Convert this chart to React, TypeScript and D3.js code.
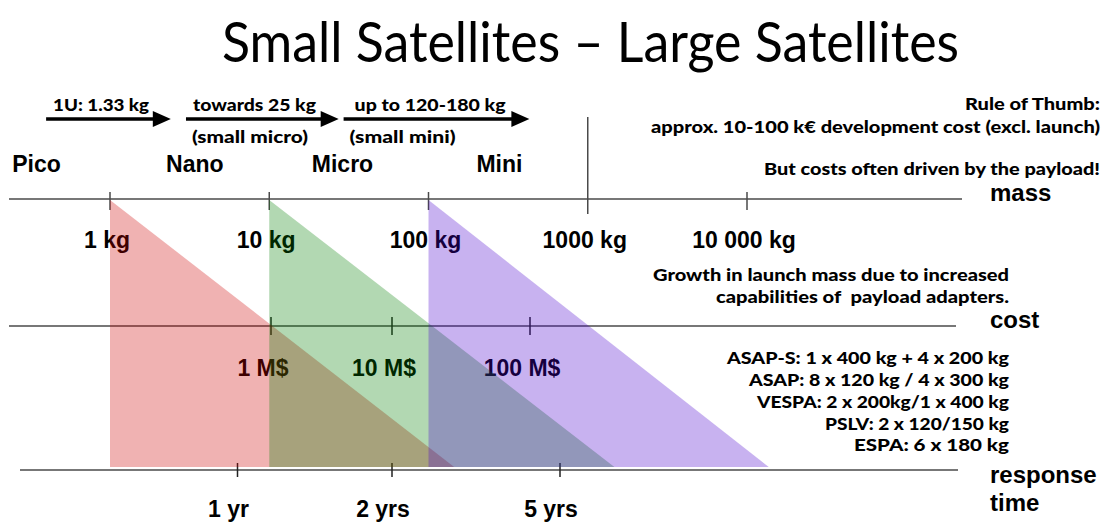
import React from 'react';
import * as d3 from 'd3';

const W = 1103;
const H = 522;

// ---- data ----
const titleText = 'Small Satellites – Large Satellites';
const massTicks = [1, 10, 100, 1000, 10000];
const massLabels = ['1 kg', '10 kg', '100 kg', '1000 kg', '10 000 kg'];
const costTicks = [1, 10, 100];
const costLabels = ['1 M$', '10 M$', '100 M$'];
const timeTicks = [1, 2, 5];
const timeLabels = ['1 yr', '2 yrs', '5 yrs'];
const classNames = ['Pico', 'Nano', 'Micro', 'Mini'];
const classStartKg = [0.243, 2.25, 18.5, 200];
const arrowLabels = ['1U: 1.33 kg', 'towards 25 kg', 'up to 120-180 kg'];
const arrowSubLabels = ['', '(small micro)', '(small mini)'];
const arrowFromKg = [0.397, 3.0, 29.3];
const arrowToKg = [2.41, 27.3, 430];
const triangleFromKg = [1, 10, 100];
const triangleToKg = [145, 1470, 13700];
const ruleLines = [
  'Rule of Thumb:',
  'approx. 10-100 k€ development cost (excl. launch)',
  'But costs often driven by the payload!',
];
const growthLines = ['Growth in launch mass due to increased', 'capabilities of  payload adapters.'];
const adapterLines = [
  'ASAP-S: 1 x 400 kg + 4 x 200 kg',
  'ASAP: 8 x 120 kg / 4 x 300 kg',
  'VESPA: 2 x 200kg/1 x 400 kg',
  'PSLV: 2 x 120/150 kg',
  'ESPA: 6 x 180 kg',
];
const axisNames = ['mass', 'cost', 'response', 'time'];

// ---- layout / style ----
const ARIAL = "'Liberation Sans', Arial, Helvetica, sans-serif";
const GILL = "Lato, 'Open Sans', sans-serif";
const GILL_WEIGHT = 900;
const triangleColors = ['rgb(205,0,0)', 'rgb(0,125,0)', 'rgb(72,0,205)'];
const arrowLabelWidths = [96, 123, 151];
const arrowLabelOffsets = [7, 7, 11];
const arrowSubWidths = [0, 116, 106];
const ruleWidths = [135, 449, 336];
const ruleBaselines = [110, 133, 175];
const growthWidths = [356, 293];
const growthBaselines = [281, 303];
const adapterWidths = [282, 260, 252, 184, 155];
const adapterBaselines = [364, 386, 408, 430, 451];
const axisNameBaselines = [201, 328, 483, 511];

export default function App() {
  const x = d3.scaleLog().domain([1, 10000]).range([110, 747]);
  const costX = d3.scaleLog().domain([1, 10, 100]).range([271, 392, 530]);
  const timeX = d3.scaleLog().domain([1, 2, 5]).range([237.5, 392, 560]);

  const yMass = 199;
  const yCost = 326;
  const yTime = 470;
  const yTriBottom = 467;
  const arrowY = 119;
  const headLen = 18;
  const headHalf = 8;
  const axisStroke = '#4a4a4a';

  const triPath = (i: number) => {
    const line = d3.line<[number, number]>();
    return (
      line([
        [x(triangleFromKg[i]), yMass + 1],
        [x(triangleFromKg[i]), yTriBottom],
        [x(triangleToKg[i]), yTriBottom],
      ]) + 'Z'
    );
  };

  return (
    <svg
      width={W}
      height={H}
      viewBox={`0 0 ${W} ${H}`}
      style={{ position: 'absolute', left: 0, top: 0, background: '#fff' }}
    >
      <rect x={0} y={0} width={W} height={H} fill="#fff" />

      {/* title */}
      <text
        x={222}
        y={62}
        fontFamily={GILL}
        fontSize={56}
        fontWeight={400}
        textLength={737}
        lengthAdjust="spacingAndGlyphs"
        fill="#000"
      >
        {titleText}
      </text>

      {/* arrows */}
      {arrowLabels.map((lab, i) => {
        const x1 = x(arrowFromKg[i]);
        const x2 = x(arrowToKg[i]);
        return (
          <g key={'arr' + i}>
            <line x1={x1} x2={x2 - headLen + 1} y1={arrowY} y2={arrowY} stroke="#000" strokeWidth={3.5} />
            <path
              d={`M${x2},${arrowY}L${x2 - headLen},${arrowY - headHalf}L${x2 - headLen},${arrowY + headHalf}Z`}
              fill="#000"
            />
            <text
              x={x1 + arrowLabelOffsets[i]}
              y={111}
              fontFamily={GILL}
              fontWeight={GILL_WEIGHT}
              fontSize={16.5}
              textLength={arrowLabelWidths[i]}
              lengthAdjust="spacingAndGlyphs"
            >
              {lab}
            </text>
            {arrowSubLabels[i] && (
              <text
                x={x1 + 6}
                y={143}
                fontFamily={GILL}
                fontWeight={GILL_WEIGHT}
                fontSize={16.5}
                textLength={arrowSubWidths[i]}
                lengthAdjust="spacingAndGlyphs"
              >
                {arrowSubLabels[i]}
              </text>
            )}
          </g>
        );
      })}

      {/* class names */}
      {classNames.map((c, i) => (
        <text key={c} x={x(classStartKg[i])} y={172} fontFamily={ARIAL} fontWeight={700} fontSize={23}>
          {c}
        </text>
      ))}

      {/* right annotations */}
      {ruleLines.map((t, i) => (
        <text
          key={'r' + i}
          x={1100 - ruleWidths[i]}
          y={ruleBaselines[i]}
          fontFamily={GILL}
          fontWeight={GILL_WEIGHT}
          fontSize={16.5}
          textLength={ruleWidths[i]}
          lengthAdjust="spacingAndGlyphs"
        >
          {t}
        </text>
      ))}
      {growthLines.map((t, i) => (
        <text
          key={'g' + i}
          x={1009 - growthWidths[i]}
          y={growthBaselines[i]}
          fontFamily={GILL}
          fontWeight={GILL_WEIGHT}
          fontSize={16.5}
          textLength={growthWidths[i]}
          lengthAdjust="spacingAndGlyphs"
          style={{ whiteSpace: 'pre' }}
        >
          {t}
        </text>
      ))}
      {adapterLines.map((t, i) => (
        <text
          key={'a' + i}
          x={1009 - adapterWidths[i]}
          y={adapterBaselines[i]}
          fontFamily={GILL}
          fontWeight={GILL_WEIGHT}
          fontSize={17}
          textLength={adapterWidths[i]}
          lengthAdjust="spacingAndGlyphs"
        >
          {t}
        </text>
      ))}

      {/* axis names */}
      {axisNames.map((n, i) => (
        <text key={n} x={990} y={axisNameBaselines[i]} fontFamily={ARIAL} fontWeight={700} fontSize={24}>
          {n}
        </text>
      ))}

      {/* mass axis */}
      <line x1={9} x2={962} y1={yMass} y2={yMass} stroke={axisStroke} strokeWidth={1.6} />
      {massTicks.map((m, i) => (
        <line
          key={'mt' + i}
          x1={x(m)}
          x2={x(m)}
          y1={m === 1000 ? 117 : 192}
          y2={m === 1000 ? 214 : 210}
          stroke={axisStroke}
          strokeWidth={1.5}
        />
      ))}
      {massLabels.map((l, i) => (
        <text
          key={'ml' + i}
          x={x(massTicks[i]) - 3}
          y={248}
          textAnchor="middle"
          fontFamily={ARIAL}
          fontWeight={700}
          fontSize={23}
        >
          {l}
        </text>
      ))}

      {/* cost axis */}
      <line x1={9} x2={956} y1={yCost} y2={yCost} stroke={axisStroke} strokeWidth={1.6} />
      {costTicks.map((c, i) => (
        <line key={'ct' + i} x1={costX(c)} x2={costX(c)} y1={317} y2={335} stroke="#222" strokeWidth={1.5} />
      ))}
      {costLabels.map((l, i) => (
        <text
          key={'cl' + i}
          x={costX(costTicks[i]) - 8}
          y={376}
          textAnchor="middle"
          fontFamily={ARIAL}
          fontWeight={700}
          fontSize={23}
        >
          {l}
        </text>
      ))}

      {/* time axis */}
      <line x1={20} x2={958} y1={yTime} y2={yTime} stroke={axisStroke} strokeWidth={1.6} />
      {timeTicks.map((t, i) => (
        <line key={'tt' + i} x1={timeX(t)} x2={timeX(t)} y1={463} y2={477} stroke="#222" strokeWidth={1.5} />
      ))}
      {timeLabels.map((l, i) => (
        <text
          key={'tl' + i}
          x={timeX(timeTicks[i]) - 9}
          y={517}
          textAnchor="middle"
          fontFamily={ARIAL}
          fontWeight={700}
          fontSize={23}
        >
          {l}
        </text>
      ))}

      {/* triangles (translucent, drawn over text) */}
      {triangleFromKg.map((_, i) => (
        <path key={'tri' + i} d={triPath(i)} fill={triangleColors[i]} fillOpacity={0.3} />
      ))}
    </svg>
  );
}
